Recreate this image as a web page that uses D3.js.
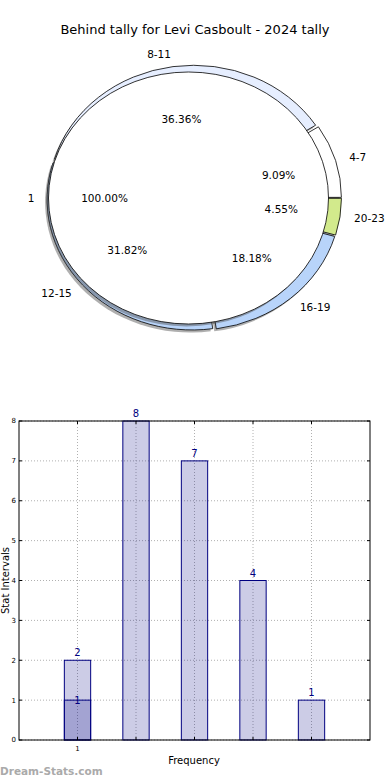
<!DOCTYPE html>
<html>
<head>
<meta charset="utf-8">
<script src="https://cdn.jsdelivr.net/npm/d3@7/dist/d3.min.js"></script>
<style>
  html, body { margin: 0; padding: 0; background: #fff; }
  svg { display: block; font-family: "DejaVu Sans", sans-serif; }
</style>
</head>
<body>
<svg id="chart" width="390" height="780"></svg>
<script>
// ---- data ----
const title = "Behind tally for Levi Casboult - 2024 tally";
const ringLabels = ["4-7", "8-11", "12-15", "16-19", "20-23"];
const ringValues = [2, 8, 7, 4, 1];
const ringColors = ["#ffffff", "#e6eeff", "#b8d4fa", "#b8d4fa", "#d2ea8c"];
const innerLabels = ["1"];
const innerValues = [22];
const barCategories = ["4-7", "8-11", "12-15", "16-19", "20-23"];
const barValues = [2, 8, 7, 4, 1];
const overlayValues = [1];
const xTickLabels = ["1", "", "", "", ""];
const yTicks = [0, 1, 2, 3, 4, 5, 6, 7, 8];

const svg = d3.select("#chart");

svg.append("text").attr("x", 195).attr("y", 34).attr("text-anchor", "middle")
  .attr("font-size", 13).attr("fill", "#000").text(title);

// ---- pie (matplotlib-like: start at 3 o'clock, counter-clockwise, elliptical) ----
const yScaleE = 0.9;
const outer = { cx: 194, cy: 198, r: 145, explode: 2.5 };
const inner = { cx: 188.5, cy: 198, r: 140 };

function mplSlices(values) {
  const total = d3.sum(values);
  let acc = 0;
  return values.map((v, i) => {
    const t0 = acc / total * 2 * Math.PI;
    acc += v;
    const t1 = acc / total * 2 * Math.PI;
    return { i, v, t0, t1, mid: (t0 + t1) / 2, frac: v / total };
  });
}
const arcGen = d3.arc().innerRadius(0);
function wedgePath(s, r) {
  return arcGen.outerRadius(r)({ startAngle: Math.PI / 2 - s.t0, endAngle: Math.PI / 2 - s.t1 });
}

const ring = mplSlices(ringValues);
const innerS = mplSlices(innerValues);
const shadowDx = -2, shadowDy = 2.5;

const pieG = svg.append("g");
ring.forEach(s => {
  const ex = outer.explode * Math.cos(s.mid), ey = -outer.explode * Math.sin(s.mid) * yScaleE;
  pieG.append("path")
    .attr("transform", `translate(${outer.cx + ex + shadowDx},${outer.cy + ey + shadowDy}) scale(1,${yScaleE})`)
    .attr("d", wedgePath(s, outer.r))
    .attr("fill", "#4d4d4d").attr("opacity", 0.45);
});
ring.forEach(s => {
  const ex = outer.explode * Math.cos(s.mid), ey = -outer.explode * Math.sin(s.mid) * yScaleE;
  pieG.append("path")
    .attr("transform", `translate(${outer.cx + ex},${outer.cy + ey}) scale(1,${yScaleE})`)
    .attr("d", wedgePath(s, outer.r))
    .attr("fill", ringColors[s.i]).attr("stroke", "#000").attr("stroke-width", 0.8)
    .attr("vector-effect", "non-scaling-stroke");
});
innerS.forEach(s => {
  pieG.append("path")
    .attr("transform", `translate(${inner.cx + shadowDx},${inner.cy + shadowDy}) scale(1,${yScaleE})`)
    .attr("d", wedgePath(s, inner.r))
    .attr("fill", "#4d4d4d").attr("opacity", 0.45);
  pieG.append("path")
    .attr("transform", `translate(${inner.cx},${inner.cy}) scale(1,${yScaleE})`)
    .attr("d", wedgePath(s, inner.r))
    .attr("fill", "#ffffff").attr("stroke", "#000").attr("stroke-width", 0.8)
    .attr("vector-effect", "non-scaling-stroke");
});

// labels
const Rlab = 147, RlabY = 132;
ring.forEach(s => {
  const c = Math.cos(s.mid), sn = Math.sin(s.mid);
  svg.append("text")
    .attr("x", outer.cx + 1.1 * Rlab * c).attr("y", outer.cy - 1.1 * RlabY * sn)
    .attr("dy", "0.35em").attr("text-anchor", c > 0 ? "start" : "end")
    .attr("font-size", 10.5).text(ringLabels[s.i]);
  svg.append("text")
    .attr("x", outer.cx + 0.6 * Rlab * c).attr("y", outer.cy - 0.6 * RlabY * sn)
    .attr("dy", "0.35em").attr("text-anchor", "middle")
    .attr("font-size", 10.5).text((s.frac * 100).toFixed(2) + "%");
});
innerS.forEach(s => {
  const c = Math.cos(s.mid), sn = Math.sin(s.mid);
  svg.append("text")
    .attr("x", inner.cx + 1.1 * inner.r * c).attr("y", inner.cy - 1.1 * inner.r * yScaleE * sn)
    .attr("dy", "0.35em").attr("text-anchor", c > 0 ? "start" : "end")
    .attr("font-size", 10.5).text(innerLabels[s.i]);
  svg.append("text")
    .attr("x", inner.cx + 0.6 * inner.r * c).attr("y", inner.cy - 0.6 * inner.r * yScaleE * sn)
    .attr("dy", "0.35em").attr("text-anchor", "middle")
    .attr("font-size", 10.5).text((s.frac * 100).toFixed(2) + "%");
});

// ---- bar chart ----
const plot = { left: 19, right: 370, top: 421, bottom: 740 };
const x = d3.scaleLinear().domain([-1, barCategories.length]).range([plot.left, plot.right]);
const y = d3.scaleLinear().domain([0, 8]).range([plot.bottom, plot.top]);
const bw = x(0.45) - x(0);
const navy = "#000080";

const g = svg.append("g");
yTicks.forEach(t => {
  g.append("line").attr("x1", plot.left).attr("x2", plot.right)
    .attr("y1", y(t)).attr("y2", y(t))
    .attr("stroke", "#b0b0b0").attr("stroke-width", 1).attr("stroke-dasharray", "1,2");
});
barCategories.forEach((c, i) => {
  g.append("line").attr("x1", x(i)).attr("x2", x(i))
    .attr("y1", plot.top).attr("y2", plot.bottom)
    .attr("stroke", "#b0b0b0").attr("stroke-width", 1).attr("stroke-dasharray", "1,2");
});

barValues.forEach((v, i) => {
  g.append("rect").attr("x", x(i) - bw / 2).attr("y", y(v))
    .attr("width", bw).attr("height", y(0) - y(v))
    .attr("fill", navy).attr("fill-opacity", 0.2)
    .attr("stroke", navy).attr("stroke-width", 1);
});
overlayValues.forEach((v, i) => {
  g.append("rect").attr("x", x(i) - bw / 2).attr("y", y(v))
    .attr("width", bw).attr("height", y(0) - y(v))
    .attr("fill", navy).attr("fill-opacity", 0.2)
    .attr("stroke", navy).attr("stroke-width", 1);
});
barValues.forEach((v, i) => {
  g.append("text").attr("x", x(i)).attr("y", y(v) - 4).attr("text-anchor", "middle")
    .attr("font-size", 10).attr("fill", navy).text(v);
});
overlayValues.forEach((v, i) => {
  g.append("text").attr("x", x(i)).attr("y", y(v) + 4).attr("text-anchor", "middle")
    .attr("font-size", 10).attr("fill", navy).text(v);
});

g.append("rect").attr("x", plot.left).attr("y", plot.top)
  .attr("width", plot.right - plot.left).attr("height", plot.bottom - plot.top)
  .attr("fill", "none").attr("stroke", "#000").attr("stroke-width", 1);

yTicks.forEach(t => {
  g.append("line").attr("x1", plot.left).attr("x2", plot.left + 3).attr("y1", y(t)).attr("y2", y(t)).attr("stroke", "#000");
  g.append("line").attr("x1", plot.right - 3).attr("x2", plot.right).attr("y1", y(t)).attr("y2", y(t)).attr("stroke", "#000");
  g.append("text").attr("x", plot.left - 3).attr("y", y(t)).attr("dy", "0.35em")
    .attr("text-anchor", "end").attr("font-size", 7).text(t);
});
barCategories.forEach((c, i) => {
  g.append("line").attr("x1", x(i)).attr("x2", x(i)).attr("y1", plot.bottom - 3).attr("y2", plot.bottom).attr("stroke", "#000");
  g.append("line").attr("x1", x(i)).attr("x2", x(i)).attr("y1", plot.top).attr("y2", plot.top + 3).attr("stroke", "#000");
  g.append("text").attr("x", x(i)).attr("y", plot.bottom + 11).attr("text-anchor", "middle")
    .attr("font-size", 7).text(xTickLabels[i]);
});

svg.append("text").attr("x", 194).attr("y", 764).attr("text-anchor", "middle")
  .attr("font-size", 10).text("Frequency");
svg.append("text").attr("transform", `translate(9,${(plot.top + plot.bottom) / 2}) rotate(-90)`)
  .attr("text-anchor", "middle").attr("font-size", 10).text("Stat Intervals");

svg.append("text").attr("x", 0).attr("y", 775).attr("font-size", 10.5).attr("font-weight", "bold")
  .attr("fill", "#aaaaaa").text("Dream-Stats.com");
</script>
</body>
</html>
